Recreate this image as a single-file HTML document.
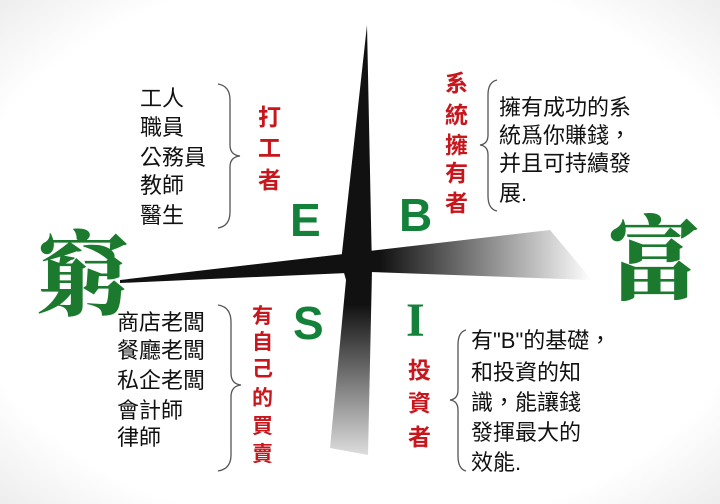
<!DOCTYPE html>
<html><head><meta charset="utf-8"><style>
html,body{margin:0;padding:0;background:#fff;}
svg{display:block;}
.t{font-family:"Liberation Sans","Noto Sans CJK TC",sans-serif;font-size:22px;fill:#111;}
.r{font-family:"Liberation Sans","Noto Sans CJK TC",sans-serif;font-size:23px;fill:#c8161d;font-weight:bold;}
.g{font-family:"Liberation Sans",sans-serif;font-size:46px;font-weight:bold;fill:#14813a;}
.gi{font-family:"Liberation Serif",serif;font-size:48px;font-weight:bold;fill:#14813a;}
.big{font-family:"Liberation Serif","Noto Serif CJK SC",serif;font-size:92px;font-weight:900;fill:#1b7a2e;}
</style></head><body>
<svg width="720" height="504" viewBox="0 0 720 504">
<defs>
<radialGradient id="vig" cx="50%" cy="50%" r="70%"><stop offset="80%" stop-color="#fff"/><stop offset="100%" stop-color="#eee"/></radialGradient>
<linearGradient id="hg" x1="0" y1="0" x2="1" y2="0"><stop offset="0" stop-color="#111"/><stop offset="0.55" stop-color="#111"/><stop offset="1" stop-color="#fff"/></linearGradient>
<linearGradient id="vg" x1="0" y1="0" x2="0" y2="1"><stop offset="0" stop-color="#111"/><stop offset="0.65" stop-color="#111"/><stop offset="1" stop-color="#ddd"/></linearGradient>
</defs>
<rect width="720" height="504" fill="url(#vig)"/>
<polygon points="367,25 372,270 368,455 330,448 346,280 341,262" fill="url(#vg)"/>
<polygon points="120,280 550,230 592,280 370,272 120,283" fill="url(#hg)"/>
<text class="big" x="36" y="308">窮</text>
<text class="big" x="608" y="292">富</text>
<g class="t">
<text x="140" y="106">工人</text><text x="140" y="135">職員</text><text x="140" y="165">公務員</text><text x="140" y="193">教師</text><text x="140" y="223">醫生</text></g>
<path d="M218,84 Q230,86 230,100 L230,145 Q230,155 240,156 Q230,157 230,167 L230,212 Q230,226 218,228" fill="none" stroke="#555" stroke-width="1.3"/>
<g class="r"><text x="258" y="125">打</text><text x="258" y="156">工</text><text x="258" y="188">者</text></g>
<text class="g" x="290" y="236">E</text>
<text class="g" x="399" y="231">B</text>
<g class="r"><text x="445" y="91">系</text><text x="445" y="123">統</text><text x="445" y="153">擁</text><text x="445" y="181">有</text><text x="445" y="211">者</text></g>
<path d="M497,80 Q488,82 488,95 L488,135 Q488,144 480,145 Q488,146 488,155 L488,196 Q488,209 497,211" fill="none" stroke="#555" stroke-width="1.3"/>
<g class="t"><text x="499" y="115">擁有成功的系</text><text x="499" y="143">統爲你賺錢，</text><text x="499" y="171">并且可持續發</text><text x="499" y="201">展.</text></g>
<g class="t"><text x="117" y="330">商店老闆</text><text x="117" y="358">餐廳老闆</text><text x="117" y="388">私企老闆</text><text x="117" y="418">會計師</text><text x="117" y="445">律師</text></g>
<path d="M218,305 Q231,307 231,322 L231,373 Q231,384 241,385 Q231,386 231,397 L231,455 Q231,469 218,471" fill="none" stroke="#555" stroke-width="1.3"/>
<g class="r" style="font-size:21px"><text x="252" y="323">有</text><text x="252" y="349">自</text><text x="252" y="376">己</text><text x="252" y="405">的</text><text x="252" y="433">買</text><text x="252" y="461">賣</text></g>
<text class="g" x="293" y="339">S</text>
<text class="gi" x="406" y="336">I</text>
<g class="r"><text x="408" y="378">投</text><text x="408" y="411">資</text><text x="408" y="445">者</text></g>
<path d="M466,330 Q458,332 458,345 L458,390 Q458,399 450,400 Q458,401 458,410 L458,456 Q458,469 466,471" fill="none" stroke="#555" stroke-width="1.3"/>
<g class="t"><text x="471" y="348">有"B"的基礎，</text><text x="471" y="380">和投資的知</text><text x="471" y="410">識，能讓錢</text><text x="471" y="440">發揮最大的</text><text x="471" y="470">效能.</text></g>
</svg>
</body></html>
